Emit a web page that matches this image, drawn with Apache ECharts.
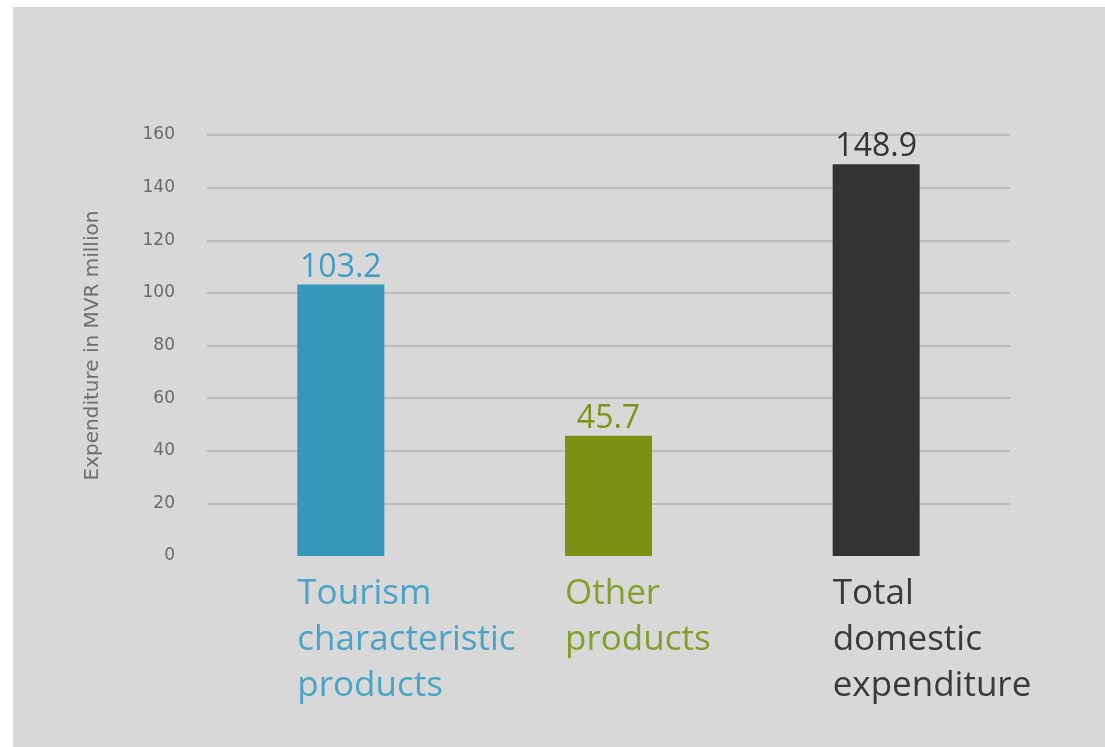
<!DOCTYPE html>
<html>
<head>
<meta charset="utf-8">
<script src="https://cdn.jsdelivr.net/npm/echarts@6/dist/echarts.min.js"></script>
<style>
  html, body { margin: 0; padding: 0; background: #ffffff; width: 1105px; height: 747px; overflow: hidden; }
  #panel { position: absolute; left: 13px; top: 7px; width: 1092px; height: 740px; background: #d8d8d8; }
  #chart { width: 100%; height: 100%; }
</style>
</head>
<body>
<div id="panel"><div id="chart"></div></div>
<script>
// ---- data ----
const categories = [
  'Tourism\ncharacteristic\nproducts',
  'Other\nproducts',
  'Total\ndomestic\nexpenditure'
];
const values = [103.2, 45.7, 148.9];
const yTicks = [0, 20, 40, 60, 80, 100, 120, 140, 160];
const yAxisTitle = 'Expenditure in MVR million';

// ---- styles ----
const barColors = ['#3597b9', '#7a9113', '#333333'];
const valueLabelColors = ['#3f9ec2', '#7c9418', '#333333'];
const catLabelColors = ['#4aa4c7', '#84a02a', '#3a3a3a'];

const chart = echarts.init(document.getElementById('chart'), null, { renderer: 'canvas' });

const rich = {};
catLabelColors.forEach((c, i) => {
  rich['c' + i] = {
    color: c, fontSize: 35, lineHeight: 46, align: 'left',
    fontFamily: '"Open Sans", sans-serif'
  };
});

const gridLineColors = yTicks.map((t, i) => i === 0 ? 'rgba(0,0,0,0)' : '#bcbcbc');

chart.setOption({
  animation: false,
  backgroundColor: 'transparent',
  grid: { left: 194, right: 95, top: 128, bottom: 191, containLabel: false },
  xAxis: {
    type: 'category',
    data: categories,
    axisLine: { show: false },
    axisTick: { show: false },
    axisLabel: {
      interval: 0,
      margin: 15,
      align: 'center',
      verticalAlign: 'top',
      width: 87,
      overflow: 'none',
      formatter: function (v, i) {
        return v.split('\n').map(s => '{c' + i + '|' + s + '}').join('\n');
      },
      rich: rich
    }
  },
  yAxis: {
    type: 'value',
    min: yTicks[0],
    max: yTicks[yTicks.length - 1],
    interval: yTicks[1] - yTicks[0],
    name: yAxisTitle,
    nameLocation: 'middle',
    nameGap: 104,
    nameRotate: 90,
    nameTextStyle: { color: '#6e6e6e', fontSize: 20, fontFamily: '"DejaVu Sans", sans-serif' },
    axisLine: { show: false },
    axisTick: { show: false },
    axisLabel: { color: '#6a6a6a', fontSize: 17, margin: 32, fontFamily: '"DejaVu Sans", sans-serif' },
    splitLine: { show: true, lineStyle: { color: gridLineColors, width: 2 } }
  },
  series: [{
    type: 'bar',
    barWidth: 87,
    data: values.map((v, i) => ({
      value: v,
      itemStyle: { color: barColors[i] },
      label: { color: valueLabelColors[i] }
    })),
    label: {
      show: true,
      position: 'top',
      distance: 1,
      fontSize: 32,
      fontFamily: '"Open Sans", sans-serif',
      formatter: p => p.value.toFixed(1)
    }
  }]
});
</script>
</body>
</html>
